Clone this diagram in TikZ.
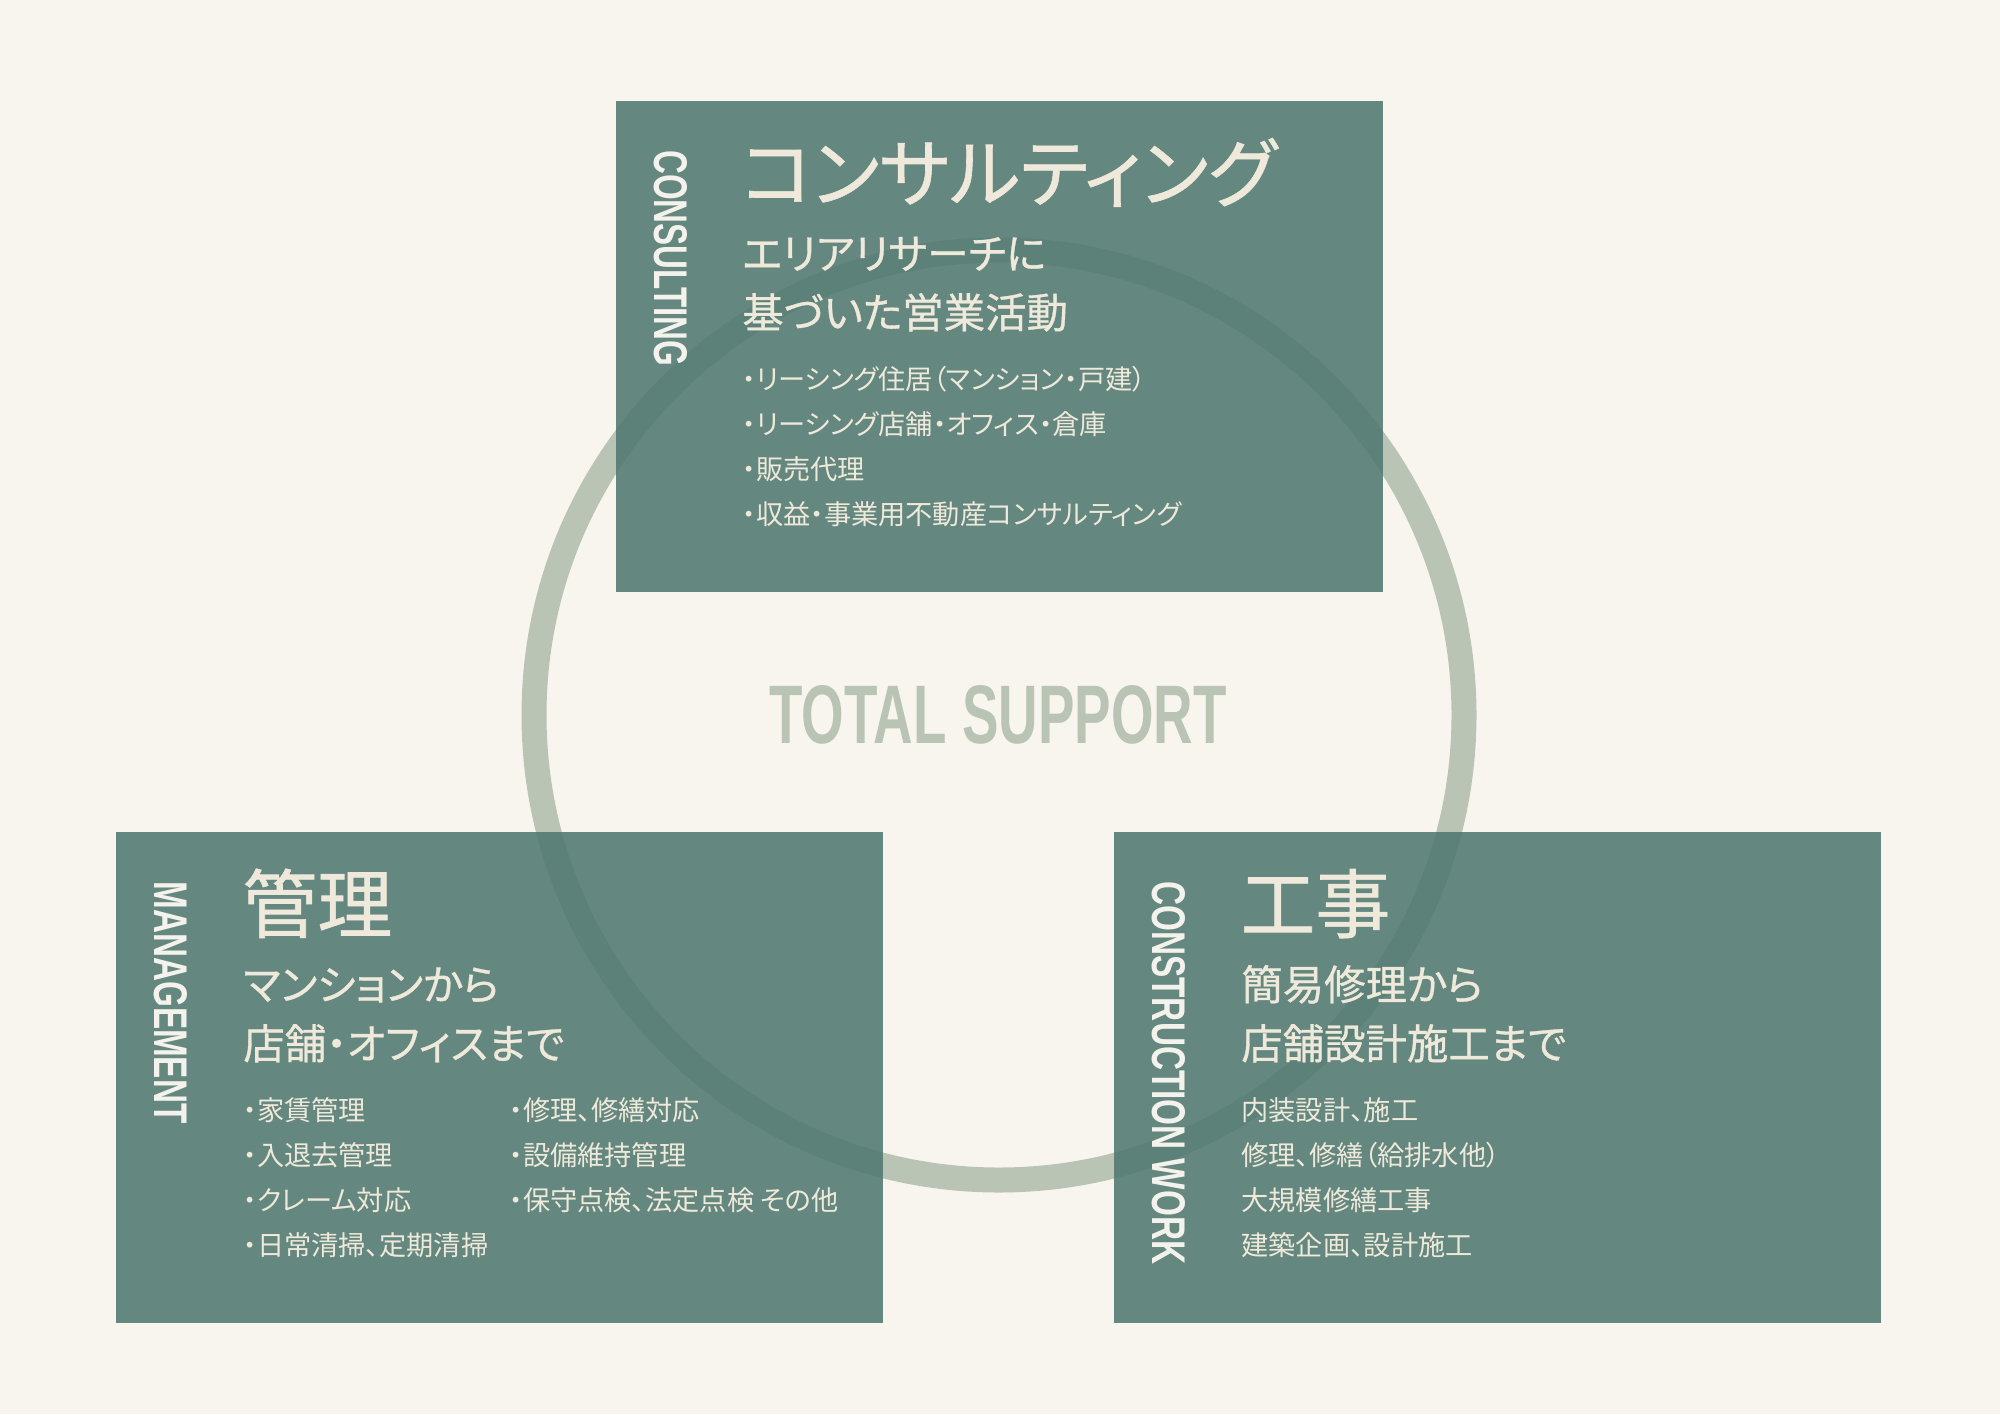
\documentclass[tikz,border=0pt]{standalone}
\usepackage{fontspec}
\usepackage{graphicx}
\newfontfamily\jpfont[RawFeature={+palt}]{Noto Sans CJK JP}
\newfontfamily\jpmid[RawFeature={+palt},FakeBold=0.8]{Noto Sans CJK JP}
\newfontfamily\latinlab{Liberation Sans}
\definecolor{bgc}{HTML}{F8F5EF}
\definecolor{boxc}{HTML}{507870}
\definecolor{ringc}{HTML}{B9C4B4}
\definecolor{cream}{HTML}{EEE9DA}
\definecolor{labc}{HTML}{F4F2EC}
\tikzset{
  panel/.style={fill=boxc, fill opacity=0.88, draw=none, inner sep=0, anchor=north west,
    minimum width=383.5pt, minimum height=245.5pt},
  ttl/.style={anchor=base west, inner sep=0, text=cream, font=\jpmid\fontsize{37.5pt}{40pt}\selectfont},
  sub/.style={anchor=base west, inner sep=0, text=cream, font=\jpmid\fontsize{20.7pt}{24pt}\selectfont},
  itm/.style={anchor=base west, inner sep=0, text=cream, font=\jpfont\fontsize{13.6pt}{16pt}\selectfont},
  vlab/.style={anchor=west, inner sep=0, rotate=-90, text=labc, font=\latinlab\bfseries}
}
\begin{document}
\begin{tikzpicture}[x=0.5pt,y=-0.5pt]
\fill[bgc] (0,0) rectangle (2000,1414);
\useasboundingbox (0,0) rectangle (2000,1414);

% ring
\node[draw=ringc, line width=12.5pt, circle, minimum size=465pt, inner sep=0] (ring) at (999,715) {};
\node[inner sep=0, text=ringc, font=\latinlab\bfseries] (total) at (998,715)
  {\resizebox{228.5pt}{29pt}{TOTAL SUPPORT}};

% panels
\node[panel] (cbox) at (616,101) {};
\node[panel] (mbox) at (116,832) {};
\node[panel] (wbox) at (1114,832) {};

% consulting
\node[vlab] (clab) at (671,150) {\resizebox{108pt}{16.5pt}{CONSULTING}};
\node[ttl] (ct) at (741,201) {コンサルティング};
\node[sub] (cs1) at (742,269) {エリアリサーチに};
\node[sub] (cs2) at (742,328) {基づいた営業活動};
\node[itm] (ci1) at (742,389) {・リーシング住居（マンション・戸建）};
\node[itm] (ci2) at (742,434) {・リーシング店舗・オフィス・倉庫};
\node[itm] (ci3) at (742,479) {・販売代理};
\node[itm] (ci4) at (742,524) {・収益・事業用不動産コンサルティング};

% management
\node[vlab] (mlab) at (171,881) {\resizebox{121pt}{16.5pt}{MANAGEMENT}};
\node[ttl] (mt) at (242,932) {管理};
\node[sub] (ms1) at (243,1000) {マンションから};
\node[sub] (ms2) at (243,1059) {店舗・オフィスまで};
\node[itm] (mi1) at (243,1120) {・家賃管理};
\node[itm] (mi2) at (243,1165) {・入退去管理};
\node[itm] (mi3) at (243,1210) {・クレーム対応};
\node[itm] (mi4) at (243,1255) {・日常清掃、定期清掃};
\node[itm] (mj1) at (509,1120) {・修理、修繕対応};
\node[itm] (mj2) at (509,1165) {・設備維持管理};
\node[itm] (mj3) at (509,1210) {・保守点検、法定点検 その他};

% construction work
\node[vlab] (wlab) at (1169,881) {\resizebox{191.5pt}{16.5pt}{CONSTRUCTION WORK}};
\node[ttl] (wt) at (1240,932) {工事};
\node[sub] (ws1) at (1241,1000) {簡易修理から};
\node[sub] (ws2) at (1241,1059) {店舗設計施工まで};
\node[itm] (wi1) at (1241,1120) {内装設計、施工};
\node[itm] (wi2) at (1241,1165) {修理、修繕（給排水他）};
\node[itm] (wi3) at (1241,1210) {大規模修繕工事};
\node[itm] (wi4) at (1241,1255) {建築企画、設計施工};
\end{tikzpicture}
\end{document}
